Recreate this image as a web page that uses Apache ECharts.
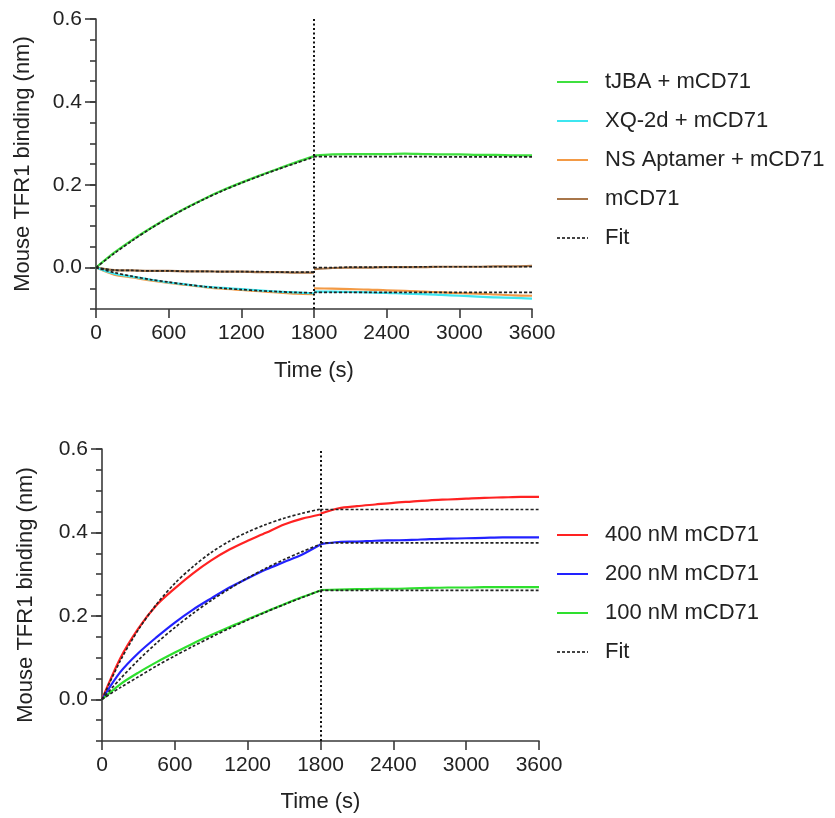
<!DOCTYPE html>
<html>
<head>
<meta charset="utf-8">
<script src="https://cdn.jsdelivr.net/npm/echarts@6/dist/echarts.min.js"></script>
<style>
  html, body { margin: 0; padding: 0; background: #fff; }
  #chart { width: 835px; height: 818px; }
</style>
</head>
<body>
<div id="chart"></div>
<script>
// time points (s)
const tAssoc = [0, 150, 300, 450, 600, 750, 900, 1050, 1200, 1350, 1500, 1650, 1800];
const tDissoc = [1800, 1950, 2100, 2250, 2400, 2550, 2700, 2850, 3000, 3150, 3300, 3450, 3600];

// top panel, measured
const tjbaA = [0, 0.036, 0.067, 0.095, 0.121, 0.145, 0.167, 0.187, 0.205, 0.222, 0.238, 0.254, 0.269];
const tjbaD = [0.270, 0.273, 0.274, 0.274, 0.274, 0.275, 0.274, 0.273, 0.273, 0.272, 0.272, 0.271, 0.271];
const xqA = [0, -0.015, -0.022, -0.029, -0.036, -0.041, -0.046, -0.049, -0.052, -0.055, -0.058, -0.060, -0.062];
const xqD = [-0.058, -0.058, -0.059, -0.060, -0.061, -0.063, -0.064, -0.066, -0.068, -0.070, -0.072, -0.073, -0.075];
const nsA = [0, -0.017, -0.024, -0.031, -0.037, -0.042, -0.047, -0.051, -0.054, -0.057, -0.060, -0.063, -0.064];
const nsD = [-0.050, -0.051, -0.052, -0.053, -0.055, -0.056, -0.058, -0.060, -0.062, -0.063, -0.065, -0.067, -0.068];
const mcdA = [0, -0.006, -0.007, -0.008, -0.008, -0.009, -0.009, -0.010, -0.010, -0.011, -0.011, -0.012, -0.012];
const mcdD = [-0.004, -0.001, 0.000, 0.000, 0.001, 0.001, 0.001, 0.002, 0.002, 0.002, 0.003, 0.003, 0.004];

// top panel, fits
const fitTjbaA = [0, 0.034, 0.065, 0.094, 0.120, 0.144, 0.166, 0.186, 0.204, 0.221, 0.237, 0.252, 0.267];
const fitTjbaD = [0.268, 0.268, 0.268, 0.268, 0.268, 0.268, 0.268, 0.267, 0.267, 0.267, 0.267, 0.267, 0.267];
const fitXqA = [0, -0.012, -0.021, -0.029, -0.035, -0.041, -0.046, -0.050, -0.053, -0.056, -0.058, -0.060, -0.061];
const fitXqD = [-0.060, -0.060, -0.060, -0.060, -0.060, -0.060, -0.060, -0.060, -0.060, -0.060, -0.060, -0.060, -0.060];
const fitMcdA = [0, -0.006, -0.007, -0.008, -0.008, -0.009, -0.009, -0.010, -0.010, -0.010, -0.011, -0.011, -0.011];
const fitMcdD = [0.000, 0.000, 0.001, 0.001, 0.001, 0.001, 0.002, 0.002, 0.002, 0.002, 0.002, 0.002, 0.002];

// bottom panel, measured
const n400A = [0, 0.098, 0.170, 0.226, 0.266, 0.302, 0.333, 0.359, 0.380, 0.399, 0.419, 0.433, 0.443];
const n400D = [0.445, 0.458, 0.463, 0.467, 0.471, 0.474, 0.477, 0.479, 0.481, 0.483, 0.484, 0.485, 0.485];
const n200A = [0, 0.065, 0.111, 0.149, 0.184, 0.215, 0.242, 0.268, 0.290, 0.311, 0.329, 0.347, 0.371];
const n200D = [0.372, 0.377, 0.378, 0.380, 0.381, 0.382, 0.384, 0.385, 0.386, 0.387, 0.388, 0.388, 0.388];
const n100A = [0, 0.036, 0.064, 0.089, 0.112, 0.134, 0.154, 0.173, 0.192, 0.210, 0.228, 0.245, 0.261];
const n100D = [0.262, 0.263, 0.264, 0.265, 0.265, 0.266, 0.267, 0.268, 0.268, 0.269, 0.269, 0.269, 0.269];

// bottom panel, fits
const fit400A = [0, 0.092, 0.167, 0.228, 0.278, 0.318, 0.352, 0.379, 0.401, 0.419, 0.434, 0.446, 0.456];
const fit400D = [0.455, 0.455, 0.455, 0.455, 0.455, 0.455, 0.455, 0.455, 0.455, 0.455, 0.455, 0.455, 0.455];
const fit200A = [0, 0.049, 0.094, 0.135, 0.172, 0.206, 0.237, 0.265, 0.291, 0.314, 0.335, 0.354, 0.372];
const fit200D = [0.375, 0.375, 0.375, 0.375, 0.375, 0.375, 0.375, 0.375, 0.375, 0.375, 0.375, 0.375, 0.375];
const fit100A = [0, 0.028, 0.054, 0.080, 0.104, 0.127, 0.149, 0.170, 0.190, 0.209, 0.227, 0.244, 0.261];
const fit100D = [0.261, 0.261, 0.261, 0.261, 0.261, 0.261, 0.261, 0.261, 0.261, 0.261, 0.261, 0.261, 0.261];

const yMajor = [0, 0.2, 0.4, 0.6];

const topNames = ["tJBA + mCD71", "XQ-2d + mCD71", "NS Aptamer + mCD71", "mCD71", "Fit"];
const botNames = ["400 nM mCD71", "200 nM mCD71", "100 nM mCD71", "Fit"];

const FONT = "'Liberation Sans', Arial, sans-serif";
const AXIS = "#3a3a3a";
const DASH_ICON = "path://M0,0h3v2h-3zM5,0h3v2h-3zM10,0h3v2h-3zM15,0h3v2h-3zM20,0h3v2h-3zM25,0h3v2h-3zM30,0h1v2h-1z";

function pairs(ts, vs) {
  return ts.map((t, i) => [t, vs[i]]);
}

function dataLine(name, grid, ts, vs, color) {
  return {
    type: "line", name: name, xAxisIndex: grid, yAxisIndex: grid * 2,
    data: pairs(ts, vs), showSymbol: false, symbol: "none", smooth: 0.3,
    lineStyle: { color: color, width: 2.2 }, itemStyle: { color: color },
    z: 3, animation: false,
  };
}

function fitLine(grid, ts, vs) {
  return {
    type: "line", name: "Fit", xAxisIndex: grid, yAxisIndex: grid * 2,
    data: pairs(ts, vs), showSymbol: false, symbol: "none", smooth: 0.3,
    lineStyle: { color: "#222", width: 1.7, type: [3, 2] }, itemStyle: { color: "#444" },
    z: 4, animation: false,
  };
}

function xAx(grid, gap) {
  return {
    type: "value", gridIndex: grid, min: 0, max: 3600, interval: 600,
    name: "Time (s)", nameLocation: "middle", nameGap: gap,
    nameTextStyle: { fontFamily: FONT, fontSize: 22, color: "#222" },
    axisLine: { onZero: false, lineStyle: { color: AXIS, width: 1.6 } },
    axisTick: { length: 9, lineStyle: { color: AXIS, width: 1.6 } },
    axisLabel: { fontFamily: FONT, fontSize: 21, color: "#222", margin: 14, formatter: (v) => String(v) },
    splitLine: { show: false },
  };
}

function yAxes(grid, gap) {
  return [
    {
      type: "value", gridIndex: grid, position: "left", min: -0.1, max: 0.6, interval: 0.05,
      name: "Mouse TFR1 binding (nm)", nameLocation: "middle", nameGap: gap,
      nameTextStyle: { fontFamily: FONT, fontSize: 22, color: "#222" },
      axisLine: { show: true, onZero: false, lineStyle: { color: AXIS, width: 1.6 } },
      axisTick: { length: 6, lineStyle: { color: AXIS, width: 1.6 } },
      axisLabel: { show: false },
      splitLine: { show: false },
    },
    {
      type: "value", gridIndex: grid, position: "left", offset: 0, min: -0.1, max: 0.6,
      axisLine: { show: false, onZero: false },
      axisTick: { show: true, length: 11, customValues: yMajor, lineStyle: { color: AXIS, width: 1.6 } },
      axisLabel: {
        fontFamily: FONT, fontSize: 21, color: "#222", margin: 14,
        customValues: yMajor, formatter: (v) => Math.abs(v).toFixed(1),
      },
      splitLine: { show: false },
    },
  ];
}

function legendAt(top, names, gap) {
  return {
    data: names.map((n) => ({ name: n, icon: n === "Fit" ? DASH_ICON : "rect" })),
    left: 552, top: top, orient: "vertical",
    itemWidth: 31, itemHeight: 2, itemGap: gap,
    textStyle: { fontFamily: FONT, fontSize: 22, color: "#222", padding: [0, 0, 0, 12] },
    selectedMode: false,
  };
}

function divider(grid) {
  return {
    type: "line", xAxisIndex: grid, yAxisIndex: grid * 2, data: [], silent: true,
    markLine: {
      symbol: "none", silent: true, animation: false,
      label: { show: false },
      lineStyle: { color: "#111", width: 2, type: [2, 2.5] },
      data: [{ xAxis: 1800 }],
    },
  };
}

const option = {
  backgroundColor: "#fff",
  animation: false,
  grid: [
    { left: 96, top: 19, width: 436, height: 290 },
    { left: 102, top: 449, width: 437, height: 292 },
  ],
  xAxis: [xAx(0, 51), xAx(1, 50)],
  yAxis: yAxes(0, 62).concat(yAxes(1, 65)),
  legend: [legendAt(66, topNames, 17), legendAt(519, botNames, 17)],
  series: [
    divider(0),
    dataLine("tJBA + mCD71", 0, tAssoc, tjbaA, "#3fe03f"),
    dataLine("tJBA + mCD71", 0, tDissoc, tjbaD, "#3fe03f"),
    dataLine("mCD71", 0, tAssoc, mcdA, "#a8764a"),
    dataLine("mCD71", 0, tDissoc, mcdD, "#a8764a"),
    dataLine("NS Aptamer + mCD71", 0, tAssoc, nsA, "#f39a45"),
    dataLine("NS Aptamer + mCD71", 0, tDissoc, nsD, "#f39a45"),
    dataLine("XQ-2d + mCD71", 0, tAssoc, xqA, "#3ee6f0"),
    dataLine("XQ-2d + mCD71", 0, tDissoc, xqD, "#3ee6f0"),
    fitLine(0, tAssoc, fitTjbaA),
    fitLine(0, tDissoc, fitTjbaD),
    fitLine(0, tAssoc, fitXqA),
    fitLine(0, tDissoc, fitXqD),
    fitLine(0, tAssoc, fitMcdA),
    fitLine(0, tDissoc, fitMcdD),

    divider(1),
    dataLine("400 nM mCD71", 1, tAssoc, n400A, "#ff2222"),
    dataLine("400 nM mCD71", 1, tDissoc, n400D, "#ff2222"),
    dataLine("200 nM mCD71", 1, tAssoc, n200A, "#2222ff"),
    dataLine("200 nM mCD71", 1, tDissoc, n200D, "#2222ff"),
    dataLine("100 nM mCD71", 1, tAssoc, n100A, "#2ee02e"),
    dataLine("100 nM mCD71", 1, tDissoc, n100D, "#2ee02e"),
    fitLine(1, tAssoc, fit400A),
    fitLine(1, tDissoc, fit400D),
    fitLine(1, tAssoc, fit200A),
    fitLine(1, tDissoc, fit200D),
    fitLine(1, tAssoc, fit100A),
    fitLine(1, tDissoc, fit100D),
  ],
};

const myChart = echarts.init(document.getElementById("chart"), null, { renderer: "canvas" });
myChart.setOption(option);
</script>
</body>
</html>
